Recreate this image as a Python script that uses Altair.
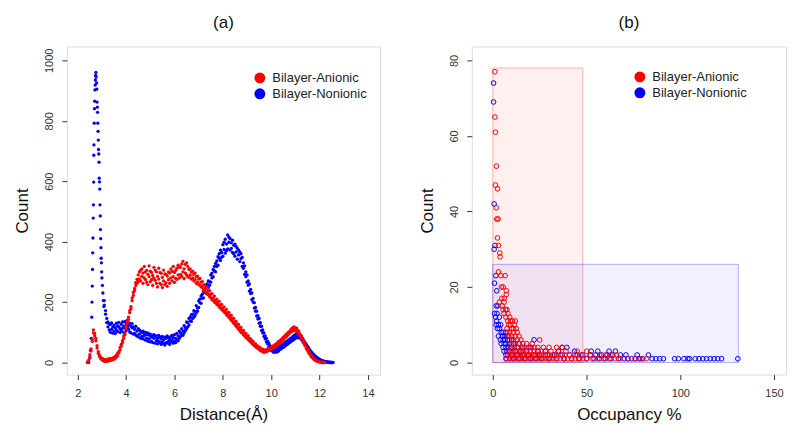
import altair as alt
import pandas as pd

ANI = "Bilayer-Anionic"
NON = "Bilayer-Nonionic"
SERIES = [ANI, NON]
COLORS = ["#ff0000", "#0000ff"]
FONT = "Liberation Sans"

# ---------------- Panel (a): Distance (Å) vs Count ----------------
# sharp first peak of the nonionic curve: (distance, count)
nonionic_spike = [
    (2.45, 0), (2.50, 15), (2.53, 40), (2.56, 80), (2.58, 150), (2.59, 200), (2.60, 253),
    (2.61, 308), (2.62, 363), (2.63, 412), (2.64, 478), (2.65, 522), (2.66, 597), (2.665, 686),
    (2.67, 720), (2.68, 792), (2.69, 840), (2.70, 865), (2.71, 902), (2.72, 918), (2.73, 935),
    (2.74, 950), (2.75, 960), (2.76, 945), (2.78, 925), (2.79, 905), (2.80, 862), (2.81, 845),
    (2.82, 828), (2.83, 792), (2.84, 765), (2.85, 736), (2.86, 705), (2.87, 690), (2.88, 663),
    (2.89, 610), (2.90, 598), (2.91, 574), (2.92, 522), (2.93, 485), (2.94, 440), (2.95, 410),
    (2.96, 380), (2.97, 345), (2.98, 330), (2.99, 300), (3.00, 280), (3.02, 255), (3.04, 230),
    (3.06, 205), (3.08, 185),
]

# (distance, count sample 1, count sample 2)
nonionic_a = [
    (3.10, 205, 190), (3.15, 172, 160), (3.20, 146, 132), (3.25, 134, 118), (3.30, 108, 128),
    (3.35, 126, 100), (3.40, 110, 131), (3.45, 97, 118), (3.50, 124, 104), (3.55, 115, 96),
    (3.60, 130, 108), (3.65, 102, 121), (3.70, 118, 133), (3.75, 99, 112), (3.80, 126, 106),
    (3.85, 113, 134), (3.90, 120, 100), (3.95, 136, 114), (4.00, 105, 128), (4.05, 140, 117),
    (4.10, 110, 124), (4.15, 130, 101), (4.20, 98, 120), (4.25, 115, 129), (4.30, 94, 118),
    (4.35, 110, 96), (4.40, 120, 91), (4.45, 104, 88), (4.50, 112, 85), (4.55, 94, 108),
    (4.60, 80, 104), (4.65, 99, 86), (4.70, 104, 78), (4.75, 88, 96), (4.80, 74, 100),
    (4.85, 92, 80), (4.90, 98, 70), (4.95, 78, 90), (5.00, 94, 68), (5.05, 84, 70),
    (5.10, 66, 90), (5.15, 80, 92), (5.20, 64, 86), (5.25, 88, 72), (5.30, 62, 80),
    (5.35, 90, 70), (5.40, 66, 84), (5.45, 60, 78), (5.50, 86, 68), (5.55, 75, 62),
    (5.60, 58, 84), (5.65, 80, 66), (5.70, 88, 64), (5.75, 70, 82), (5.80, 60, 78),
    (5.85, 86, 68), (5.90, 74, 90), (5.95, 64, 82), (6.00, 92, 70), (6.05, 80, 66),
    (6.10, 96, 76), (6.15, 88, 72), (6.20, 80, 104), (6.25, 98, 86), (6.30, 112, 92),
    (6.35, 104, 90), (6.40, 98, 122), (6.45, 116, 106), (6.50, 134, 112), (6.55, 118, 132),
    (6.60, 146, 124), (6.65, 138, 150), (6.70, 136, 158), (6.75, 160, 146), (6.80, 150, 172),
    (6.85, 168, 156), (6.90, 188, 164), (6.95, 180, 170), (7.00, 182, 204), (7.05, 198, 210),
    (7.10, 220, 196), (7.15, 212, 226), (7.20, 214, 236), (7.25, 232, 244), (7.30, 254, 230),
    (7.35, 246, 260), (7.40, 248, 270), (7.45, 268, 256), (7.50, 290, 266), (7.55, 280, 296),
    (7.60, 284, 308), (7.65, 304, 318), (7.70, 328, 300), (7.75, 318, 336), (7.80, 322, 350),
    (7.85, 345, 360), (7.90, 338, 372), (7.95, 364, 348), (8.00, 390, 352), (8.05, 374, 398),
    (8.10, 362, 408), (8.15, 392, 370), (8.20, 422, 376), (8.25, 398, 415), (8.30, 372, 410),
    (8.35, 396, 378), (8.40, 405, 364), (8.45, 388, 360), (8.50, 392, 352), (8.55, 366, 384),
    (8.60, 378, 342), (8.65, 356, 372), (8.70, 366, 334), (8.75, 344, 360), (8.80, 318, 348),
    (8.85, 330, 312), (8.90, 320, 292), (8.95, 300, 284), (9.00, 290, 266), (9.05, 270, 256),
    (9.10, 260, 236), (9.15, 242, 228), (9.20, 230, 208), (9.25, 212, 200), (9.30, 198, 180),
    (9.35, 182, 170), (9.40, 170, 154), (9.45, 155, 144), (9.50, 146, 130), (9.55, 132, 120),
    (9.60, 120, 106), (9.65, 108, 98), (9.70, 98, 86), (9.75, 88, 78), (9.80, 80, 68),
    (9.85, 70, 62), (9.90, 64, 52), (9.95, 56, 48), (10.00, 52, 40), (10.05, 46, 38),
    (10.10, 48, 34), (10.15, 38, 44), (10.20, 34, 46), (10.25, 42, 36), (10.30, 50, 38),
    (10.35, 44, 52), (10.40, 56, 44), (10.45, 50, 58), (10.50, 62, 50), (10.55, 54, 64),
    (10.60, 68, 56), (10.65, 60, 70), (10.70, 74, 62), (10.75, 66, 76), (10.80, 80, 68),
    (10.85, 72, 82), (10.90, 86, 74), (10.95, 78, 90), (11.00, 92, 80), (11.05, 84, 94),
    (11.10, 96, 82), (11.15, 86, 92), (11.20, 90, 80), (11.25, 84, 76), (11.30, 80, 70),
    (11.35, 72, 66), (11.40, 66, 58), (11.45, 60, 54), (11.50, 54, 46), (11.55, 48, 42),
    (11.60, 42, 36), (11.65, 36, 32), (11.70, 32, 26), (11.75, 27, 23), (11.80, 23, 19),
    (11.85, 19, 16), (11.90, 16, 13), (11.95, 13, 11), (12.00, 11, 9), (12.05, 8, 7),
    (12.10, 6, 5), (12.15, 5, 4), (12.20, 4, 3), (12.25, 3, 2), (12.30, 2, 2), (12.35, 1, 1),
    (12.40, 1, 0), (12.45, 0, 1), (12.50, 0, 0), (12.55, 0, 0),
]

anionic_a = [
    (2.40, 0, 2), (2.45, 4, 8), (2.50, 18, 26), (2.55, 45, 38), (2.60, 78, 70), (2.65, 108, 98),
    (2.70, 96, 88), (2.75, 72, 80), (2.80, 48, 56), (2.85, 30, 36), (2.90, 20, 24),
    (2.95, 13, 17), (3.00, 9, 14), (3.05, 6, 12), (3.10, 10, 4), (3.15, 4, 9), (3.20, 8, 3),
    (3.25, 5, 12), (3.30, 10, 6), (3.35, 7, 14), (3.40, 13, 8), (3.45, 10, 15), (3.50, 16, 11),
    (3.55, 14, 20), (3.60, 24, 19), (3.65, 22, 31), (3.70, 36, 32), (3.75, 42, 50),
    (3.80, 55, 60), (3.85, 66, 72), (3.90, 80, 88), (3.95, 98, 92), (4.00, 112, 120),
    (4.05, 130, 138), (4.10, 142, 150), (4.15, 165, 172), (4.20, 185, 178), (4.25, 205, 214),
    (4.30, 222, 232), (4.35, 245, 238), (4.40, 255, 264), (4.45, 275, 262), (4.50, 268, 290),
    (4.55, 300, 276), (4.60, 270, 305), (4.65, 310, 285), (4.70, 262, 296), (4.75, 318, 280),
    (4.80, 275, 300), (4.85, 305, 266), (4.90, 258, 292), (4.95, 320, 284), (5.00, 268, 302),
    (5.05, 298, 274), (5.10, 255, 288), (5.15, 315, 279), (5.20, 272, 306), (5.25, 300, 262),
    (5.30, 250, 285), (5.35, 312, 276), (5.40, 262, 298), (5.45, 295, 258), (5.50, 248, 282),
    (5.55, 306, 270), (5.60, 258, 293), (5.65, 292, 264), (5.70, 252, 286), (5.75, 300, 274),
    (5.80, 262, 296), (5.85, 310, 280), (5.90, 270, 302), (5.95, 318, 284), (6.00, 265, 298),
    (6.05, 305, 278), (6.10, 275, 312), (6.15, 322, 290), (6.20, 280, 316), (6.25, 315, 292),
    (6.30, 285, 326), (6.35, 335, 300), (6.40, 278, 310), (6.45, 325, 296), (6.50, 290, 330),
    (6.55, 318, 284), (6.60, 282, 308), (6.65, 310, 290), (6.70, 276, 300), (6.75, 302, 280),
    (6.80, 270, 292), (6.85, 296, 274), (6.90, 262, 284), (6.95, 286, 266), (7.00, 258, 276),
    (7.05, 278, 256), (7.10, 250, 266), (7.15, 268, 248), (7.20, 240, 256), (7.25, 258, 236),
    (7.30, 234, 246), (7.35, 248, 226), (7.40, 226, 236), (7.45, 238, 218), (7.50, 215, 226),
    (7.55, 228, 208), (7.60, 206, 214), (7.65, 220, 200), (7.70, 198, 206), (7.75, 210, 192),
    (7.80, 190, 198), (7.85, 202, 184), (7.90, 180, 190), (7.95, 192, 176), (8.00, 172, 180),
    (8.05, 184, 168), (8.10, 164, 172), (8.15, 176, 158), (8.20, 155, 164), (8.25, 166, 150),
    (8.30, 146, 156), (8.35, 156, 140), (8.40, 136, 146), (8.45, 146, 130), (8.50, 126, 136),
    (8.55, 136, 120), (8.60, 116, 126), (8.65, 126, 110), (8.70, 106, 116), (8.75, 116, 100),
    (8.80, 98, 106), (8.85, 106, 92), (8.90, 88, 96), (8.95, 96, 84), (9.00, 80, 88),
    (9.05, 88, 76), (9.10, 72, 80), (9.15, 78, 68), (9.20, 64, 72), (9.25, 70, 60),
    (9.30, 56, 62), (9.35, 62, 52), (9.40, 50, 56), (9.45, 54, 46), (9.50, 44, 50),
    (9.55, 48, 40), (9.60, 38, 44), (9.65, 44, 36), (9.70, 34, 40), (9.75, 42, 35),
    (9.80, 36, 42), (9.85, 44, 38), (9.90, 40, 46), (9.95, 48, 42), (10.00, 44, 50),
    (10.05, 52, 46), (10.10, 50, 56), (10.15, 58, 52), (10.20, 56, 62), (10.25, 64, 58),
    (10.30, 62, 70), (10.35, 70, 64), (10.40, 68, 76), (10.45, 78, 72), (10.50, 76, 84),
    (10.55, 86, 80), (10.60, 84, 92), (10.65, 94, 88), (10.70, 92, 100), (10.75, 102, 96),
    (10.80, 100, 108), (10.85, 112, 104), (10.90, 104, 116), (10.95, 118, 108),
    (11.00, 106, 114), (11.05, 114, 102), (11.10, 98, 106), (11.15, 102, 94), (11.20, 86, 92),
    (11.25, 88, 80), (11.30, 72, 78), (11.35, 70, 64), (11.40, 56, 60), (11.45, 52, 46),
    (11.50, 40, 44), (11.55, 36, 32), (11.60, 28, 30), (11.65, 24, 20), (11.70, 18, 16),
    (11.75, 14, 12), (11.80, 10, 8), (11.85, 8, 6), (11.90, 5, 4), (11.95, 4, 3),
    (12.00, 2, 2), (12.05, 1, 1), (12.10, 1, 0), (12.15, 0, 0), (12.20, 0, 0),
]

# ---------------- Panel (b): Occupancy % vs Count ----------------
anionic_b_high = [
    (1.1, 77), (1.1, 65), (1.4, 61), (1.9, 52), (1.4, 47), (2.5, 46), (1.8, 41), (2.1, 38),
    (2.8, 38), (2.5, 33), (3.0, 31), (3.7, 29), (3.9, 28), (3.0, 24), (4.3, 23), (6.6, 23),
    (4.6, 20), (5.5, 20), (7.2, 19), (7.2, 18), (4.8, 17), (6.2, 17), (3.5, 16), (6.0, 16),
    (5.0, 15), (5.5, 14), (6.8, 14), (7.5, 14), (6.0, 13), (8.0, 13), (7.0, 12), (9.0, 12),
]
# count -> occupancy values at that count
anionic_b_rows = {
    11: [8, 9.5, 10.5, 12],
    10: [8.5, 9.5, 11.5],
    9: [7.5, 10, 11, 12.5],
    8: [8, 9, 11, 13],
    7: [8.5, 10, 12, 14],
    6: [9, 11, 13, 15, 25],
    5: [10, 12, 14, 16, 18, 21],
    4: [9.5, 11.5, 13.5, 15.5, 17, 19, 20.5, 22, 24, 27, 30, 34, 37],
    3: [9, 10.5, 12, 13.5, 15, 16.5, 18, 20, 22, 24, 26, 28, 31, 35, 39, 45, 50],
    2: [8, 9.5, 11, 12.5, 14, 15.5, 17, 18.5, 20, 21.5, 23, 24.5, 26, 28, 30, 32, 34, 36,
        38.5, 41, 44, 47, 52, 57, 60, 63, 66],
    1: [7.5, 9, 10.5, 12, 13.5, 15, 16, 17.5, 19, 20.5, 22, 23.5, 25, 26.5, 28, 29.5, 31,
        32.5, 34, 36, 38, 40, 42, 44, 46, 48, 50, 53, 56, 59, 62, 65, 68, 72, 76, 79, 82],
}
nonionic_b_high = [
    (0.4, 74), (0.4, 69), (0.7, 42), (1.2, 31), (0.7, 30), (1.6, 23), (0.9, 21), (2.1, 19),
    (1.8, 15), (2.7, 15), (0.9, 13), (2.2, 13), (1.5, 12), (3.5, 12), (2.0, 11), (1.8, 10),
    (3.0, 10), (4.2, 10), (2.5, 9), (3.5, 9), (4.5, 8), (5.5, 8), (7, 8), (3.0, 7), (5.0, 7),
    (6.5, 7), (8, 7), (4.0, 6), (5.5, 6), (6.5, 6), (8, 6), (10, 6), (22, 6),
]
nonionic_b_rows = {
    5: [4.5, 6, 7, 9, 11, 14],
    4: [5.5, 7, 8.5, 10, 13, 16, 20, 37, 39.5],
    3: [6, 7.5, 9, 12, 15, 18, 24, 28, 35, 43.6, 52.5, 56, 62, 65.4],
    2: [7, 8, 10, 13, 16, 19, 22, 25, 29, 33, 37, 41, 45, 48, 52, 55, 58, 61, 64, 68, 71,
        77, 83],
    1: [7, 9, 11, 14, 17, 20, 23, 26, 30, 34, 38, 42, 46, 50, 54, 57, 60, 63, 67, 70, 72,
        74, 76, 78, 80, 85, 87, 89, 91, 97, 99, 102, 104, 105, 108, 110, 112, 114, 116, 118,
        120, 122, 130.7],
}
# shaded ranges in panel (b): occupancy max and count max for each series
rect_x2 = [48, 131]
rect_y2 = [78, 26]

# ---------------- build tables ----------------
rows_a = []
for x, y in nonionic_spike:
    rows_a.append({"Distance": x, "Count": y, "Series": NON})
for x, y1, y2 in nonionic_a:
    rows_a.append({"Distance": x, "Count": y1, "Series": NON})
    rows_a.append({"Distance": x, "Count": y2, "Series": NON})
for x, y1, y2 in anionic_a:
    rows_a.append({"Distance": x, "Count": y1, "Series": ANI})
    rows_a.append({"Distance": x, "Count": y2, "Series": ANI})
df_a = pd.DataFrame(rows_a)


def expand(high, rows, name):
    out = [{"Occ": x, "Count": y, "Series": name} for x, y in high]
    for cnt, xs in rows.items():
        out += [{"Occ": x, "Count": cnt, "Series": name} for x in xs]
    return out


df_b = pd.DataFrame(expand(nonionic_b_high, nonionic_b_rows, NON)
                    + expand(anionic_b_high, anionic_b_rows, ANI))
df_rect = pd.DataFrame({"Series": SERIES, "x0": [0, 0], "x2": rect_x2,
                        "y0": [0, 0], "y2": rect_y2})

W, H = 314, 329
tick_color = "#333333"


def xaxis(values, title):
    return alt.Axis(values=values, title=title, format="d", grid=False, domain=False,
                    tickSize=5, tickColor=tick_color, labelColor=tick_color, labelFont=FONT,
                    labelFontSize=11, labelPadding=8, titleFont=FONT, titleFontSize=17,
                    titleFontWeight="normal", titleColor="#111111", titlePadding=8,
                    labelFlush=False)


def yaxis(values, title):
    return alt.Axis(values=values, title=title, format="d", grid=False, domain=False,
                    tickSize=5, tickColor=tick_color, labelColor=tick_color, labelFont=FONT,
                    labelFontSize=11, labelPadding=7, labelAngle=270, labelAlign="center",
                    labelBaseline="bottom", titleFont=FONT, titleFontSize=17,
                    titleFontWeight="normal", titleColor="#111111", titlePadding=12,
                    labelFlush=False)


def legend(x, y):
    return alt.Legend(title=None, orient="none", legendX=x, legendY=y, padding=0,
                      symbolType="circle", symbolSize=120,
                      labelFont=FONT, labelFontSize=13, labelColor="#222222",
                      labelOffset=6, rowPadding=2)


color_scale = alt.Scale(domain=SERIES, range=COLORS)

panel_a = alt.Chart(df_a).mark_circle(size=11, opacity=1).encode(
    x=alt.X("Distance:Q", scale=alt.Scale(domain=[1.55, 14.5], nice=False, zero=False),
            axis=xaxis([2, 4, 6, 8, 10, 12, 14], "Distance(Å)")),
    y=alt.Y("Count:Q", scale=alt.Scale(domain=[-40, 1046], nice=False),
            axis=yaxis([0, 200, 400, 600, 800, 1000], "Count")),
    color=alt.Color("Series:N", scale=color_scale, sort=SERIES, legend=legend(187, 25)),
).properties(width=W, height=H,
             title=alt.TitleParams("(a)", font=FONT, fontSize=17, fontWeight="normal",
                                   anchor="middle", offset=14, color="#111111"))

xb = alt.X("Occ:Q", scale=alt.Scale(domain=[-11.2, 156.4], nice=False, zero=False),
           axis=xaxis([0, 50, 100, 150], "Occupancy %"))
yb = alt.Y("Count:Q", scale=alt.Scale(domain=[-3.2, 83.7], nice=False),
           axis=yaxis([0, 20, 40, 60, 80], "Count"))

rects = alt.Chart(df_rect).mark_rect(fillOpacity=0.06, strokeOpacity=0.3, strokeWidth=1).encode(
    x=alt.X("x0:Q", scale=alt.Scale(domain=[-11.2, 156.4], nice=False, zero=False),
            axis=xaxis([0, 50, 100, 150], "Occupancy %")),
    x2="x2:Q",
    y=alt.Y("y0:Q", scale=alt.Scale(domain=[-3.2, 83.7], nice=False),
            axis=yaxis([0, 20, 40, 60, 80], "Count")),
    y2="y2:Q",
    fill=alt.Fill("Series:N", scale=color_scale, legend=None),
    stroke=alt.Stroke("Series:N", scale=color_scale, legend=None),
)

pts_b = alt.Chart(df_b).mark_point(size=22, filled=False, strokeWidth=1, opacity=1).encode(
    x=xb, y=yb,
    stroke=alt.Stroke("Series:N", scale=color_scale, legend=None),
)

legend_b = alt.Chart(df_b).transform_filter("false").mark_circle(opacity=1).encode(
    fill=alt.Fill("Series:N", scale=color_scale, sort=SERIES, legend=legend(162, 24)),
)

panel_b = alt.layer(rects, pts_b, legend_b).resolve_scale(
    fill="independent", stroke="independent"
).properties(width=315, height=H,
             title=alt.TitleParams("(b)", font=FONT, fontSize=17, fontWeight="normal",
                                   anchor="middle", offset=14, color="#111111"))

chart = alt.hconcat(panel_a, panel_b, spacing=37).resolve_scale(
    color="independent", fill="independent", stroke="independent"
).resolve_legend(color="independent", fill="independent").configure_view(
    stroke="#222222", strokeWidth=1.5
).configure(background="white", padding=5)

chart.save("out.html", embed_options={"renderer": "svg", "actions": False})
